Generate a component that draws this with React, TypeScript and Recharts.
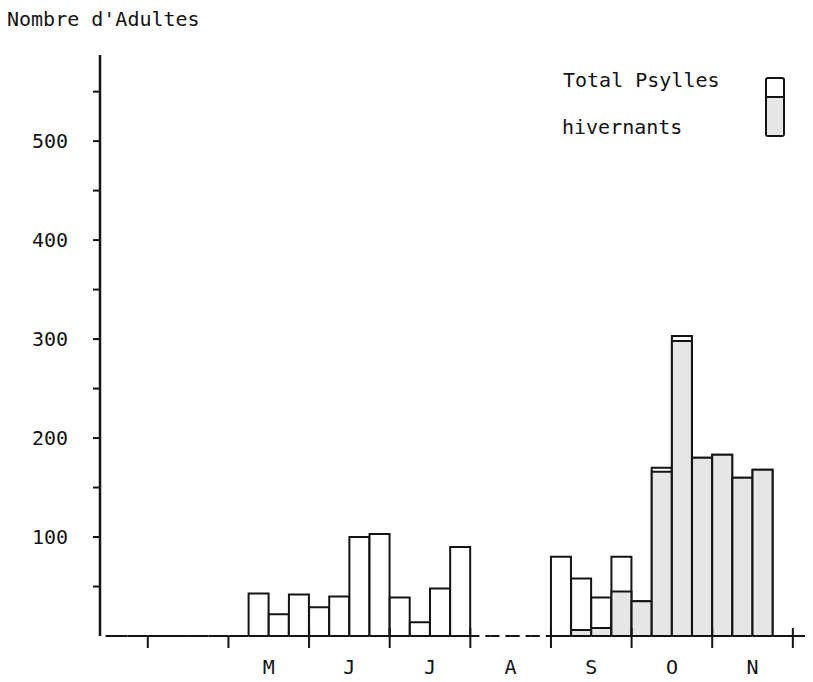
import React from 'react';
import { BarChart, Bar, XAxis, YAxis } from 'recharts';

const weeks = [
  'w1', 'w2', 'w3', 'w4', 'w5', 'w6', 'w7', 'w8', 'w9', 'w10',
  'w11', 'w12', 'w13', 'w14', 'w15', 'w16', 'w17', 'w18', 'w19', 'w20',
  'w21', 'w22', 'w23', 'w24', 'w25', 'w26', 'w27', 'w28', 'w29', 'w30',
  'w31', 'w32', 'w33', 'w34', 'w35',
];

const totalPsylles = [
  0, 0, 0, 0, 0, 0, 0, 43, 22, 42,
  29, 40, 100, 103, 39, 14, 48, 90, 0, 0,
  0, 0, 80, 58, 39, 80, 35, 170, 303, 180,
  183, 160, 168, 0, 0,
];

const hivernants = [
  0, 0, 0, 0, 0, 0, 0, 0, 0, 0,
  0, 0, 0, 0, 0, 0, 0, 0, 0, 0,
  0, 0, 0, 6, 8, 45, 35, 166, 298, 180,
  183, 160, 168, 0, 0,
];

// week index at which each month begins (tick marks)
const monthBoundaries = [2, 6, 10, 14, 18, 22, 26, 30, 34];
// week index (boundary between weeks) under which each month label sits
const monthLabelPositions = [8, 12, 16, 20, 24, 28, 32];
const monthLabels = ['M', 'J', 'J', 'A', 'S', 'O', 'N'];
// weeks where the baseline is drawn dashed (no sampling)
const dashedWeeks = [18, 19, 20, 21];
const yTicks = [50, 100, 150, 200, 250, 300, 350, 400, 450, 500, 550];
const yLabelTicks = [100, 200, 300, 400, 500];

const FONT = '"DejaVu Sans Mono", monospace';
const INK = '#141414';
const CHART_W = 813;
const CHART_H = 682;
const X_AXIS_H = 46;
const Y_AXIS_W = 100;
const PAD_LEFT = 7.5;
const PLOT_BOTTOM = CHART_H - X_AXIS_H;
const BAND = (CHART_W - Y_AXIS_W - PAD_LEFT) / weeks.length;

const data = weeks.map((w, i) => ({ week: w, total: totalPsylles[i], hiv: hivernants[i] }));

const WeekTick = (props: any) => {
  const { x, payload } = props;
  const k = weeks.indexOf(payload.value);
  const y = PLOT_BOTTOM;
  const left = x - BAND / 2;
  const right = x + BAND / 2;
  const dashed = dashedWeeks.includes(k);
  const bi = monthBoundaries.indexOf(k);
  const li = monthLabelPositions.indexOf(k);
  return (
    <g>
      <line
        x1={k === 0 ? left - 2 : left}
        x2={right}
        y1={y}
        y2={y}
        stroke={INK}
        strokeWidth={2}
        strokeDasharray={dashed ? '9 6' : undefined}
      />
      {bi >= 0 && (
        <line x1={left} x2={left} y1={y - (bi < 2 ? 0 : 8)} y2={y + 12} stroke={INK} strokeWidth={2} />
      )}
      {li >= 0 && (
        <text x={left} y={y + 38} textAnchor="middle" fontFamily={FONT} fontSize={20} fill={INK}>
          {monthLabels[li]}
        </text>
      )}
    </g>
  );
};

export default function App() {
  return (
    <div style={{ position: 'relative', width: CHART_W, height: CHART_H, marginLeft: -8, marginTop: -8, background: '#fff' }}>
      <BarChart
        width={CHART_W}
        height={CHART_H}
        data={data}
        margin={{ top: 55, right: 0, bottom: 0, left: 0 }}
        barCategoryGap={0}
        barGap={0}
      >
        <XAxis
          xAxisId="a"
          dataKey="week"
          interval={0}
          padding={{ left: PAD_LEFT, right: 0 }}
          axisLine={false}
          tickLine={false}
          height={X_AXIS_H}
          tick={WeekTick}
        />
        <XAxis xAxisId="b" dataKey="week" hide padding={{ left: PAD_LEFT, right: 0 }} />
        <YAxis
          domain={[0, 587]}
          ticks={yTicks}
          interval={0}
          allowDataOverflow
          width={Y_AXIS_W}
          tickSize={7}
          tickMargin={25}
          tickFormatter={(v: number) => (yLabelTicks.includes(v) ? String(v) : '')}
          axisLine={{ stroke: INK, strokeWidth: 2.5 }}
          tickLine={{ stroke: INK, strokeWidth: 2 }}
          tick={{ fontFamily: FONT, fontSize: 20, fill: INK }}
        />
        <Bar xAxisId="a" dataKey="total" fill="#ffffff" stroke={INK} strokeWidth={2} isAnimationActive={false} />
        <Bar xAxisId="b" dataKey="hiv" fill="#e6e6e6" stroke={INK} strokeWidth={2} isAnimationActive={false} />
      </BarChart>

      <div style={{ position: 'absolute', left: 7, top: 9, fontFamily: FONT, fontSize: 20, lineHeight: '20px', color: INK, whiteSpace: 'pre' }}>
        Nombre d'Adultes
      </div>
      <div style={{ position: 'absolute', left: 563, top: 70, fontFamily: FONT, fontSize: 20, lineHeight: '20px', color: INK, whiteSpace: 'pre' }}>
        Total Psylles
      </div>
      <div style={{ position: 'absolute', left: 562, top: 117, fontFamily: FONT, fontSize: 20, lineHeight: '20px', color: INK, whiteSpace: 'pre' }}>
        hivernants
      </div>
      <div style={{ position: 'absolute', left: 765, top: 77, width: 16, height: 56, border: `2px solid ${INK}`, borderRadius: 3, background: '#fff' }}>
        <div style={{ position: 'absolute', left: 0, right: 0, top: 17, bottom: 0, borderTop: `2px solid ${INK}`, background: '#e6e6e6' }} />
      </div>
    </div>
  );
}
